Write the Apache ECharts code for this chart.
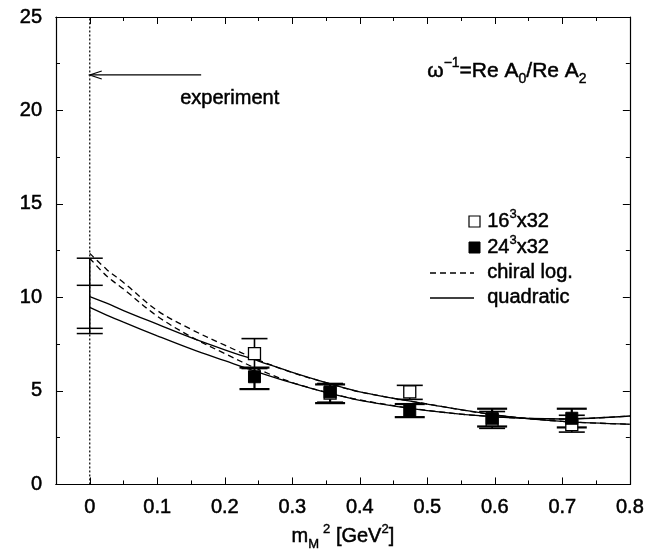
<!DOCTYPE html>
<html>
<head>
<meta charset="utf-8">
<script src="https://cdn.jsdelivr.net/npm/echarts@6/dist/echarts.min.js"></script>
<style>
html,body{margin:0;padding:0;background:#fff;}
#c{width:647px;height:556px;}
</style>
</head>
<body>
<div id="c"></div>
<script>
// ---------- data ----------
const xTicks = [0, 0.1, 0.2, 0.3, 0.4, 0.5, 0.6, 0.7, 0.8];
const xMinorTicks = [0.05, 0.15, 0.25, 0.35, 0.45, 0.55, 0.65, 0.75];
const yTicks = [0, 5, 10, 15, 20, 25];

const massX = [0.244, 0.356, 0.474, 0.596, 0.714];
const open16 = [7.0, 4.88, 4.95, 3.45, 3.2];
const open16Lo = [6.2, 4.4, 4.55, 3.0, 2.8];
const open16Hi = [7.8, 5.4, 5.3, 3.9, 3.7];
const filled24 = [5.76, 4.95, 3.96, 3.54, 3.54];
const filled24Lo = [5.1, 4.35, 3.6, 3.1, 3.05];
const filled24Hi = [6.25, 5.35, 4.3, 4.05, 4.05];

const xCurve = [0, 0.025, 0.05, 0.1, 0.15, 0.2, 0.25, 0.3, 0.35, 0.4, 0.5, 0.6, 0.7, 0.8];
const chiral16 = [12.36, 11.5, 10.8, 9.3, 8.3, 7.45, 6.65, 5.98, 5.44, 4.95, 4.3, 3.72, 3.37, 3.22];
const chiral24 = [12.1, 11.15, 10.45, 9.0, 7.9, 7.0, 6.15, 5.45, 4.94, 4.52, 3.96, 3.62, 3.5, 3.66];
const quad16 = [10.05, 9.7, 9.3, 8.57, 7.85, 7.2, 6.6, 6.0, 5.45, 4.95, 4.3, 3.72, 3.37, 3.22];
const quad24 = [9.47, 9.06, 8.68, 7.95, 7.25, 6.62, 6.0, 5.43, 4.92, 4.5, 3.95, 3.62, 3.5, 3.66];

const interceptX = 0;
const interceptTicks = [12.1, 10.65, 8.35, 8.07];

const arrowX = [0.165, 0];
const arrowY = 21.9;

// ---------- chart ----------
const FONT = '"Liberation Sans", Arial, Helvetica, sans-serif';
const chart = echarts.init(document.getElementById('c'), null, {renderer: 'canvas'});

const pairs = (xs, ys) => xs.map((x, i) => [x, ys[i]]);
const errData = (xs, lo, hi) => xs.map((x, i) => [x, lo[i], hi[i]]);

function errRender(halfW, lw) {
  return function (params, api) {
    const x = api.value(0), lo = api.value(1), hi = api.value(2);
    const a = api.coord([x, lo]), b = api.coord([x, hi]);
    const st = {stroke: '#000', lineWidth: lw};
    return {type: 'group', children: [
      {type: 'line', shape: {x1: a[0], y1: a[1], x2: b[0], y2: b[1]}, style: st},
      {type: 'line', shape: {x1: a[0] - halfW, y1: a[1], x2: a[0] + halfW, y2: a[1]}, style: st},
      {type: 'line', shape: {x1: b[0] - halfW, y1: b[1], x2: b[0] + halfW, y2: b[1]}, style: st}
    ]};
  };
}

function curve(name, ys, dashed) {
  return {
    type: 'line', name: name, data: pairs(xCurve, ys), smooth: 0.35,
    showSymbol: false, symbol: 'none', silent: true, z: 3,
    lineStyle: {color: '#000', width: 1.3, type: dashed ? [6, 4] : 'solid'}
  };
}

const TB = {textBorderColor: '#000', textBorderWidth: 0.5};

const baseX = {
  type: 'value', min: -0.05, max: 0.8,
  axisLine: {show: true, onZero: false, lineStyle: {color: '#000', width: 1.2}},
  splitLine: {show: false}
};
const baseY = {
  type: 'value', min: 0, max: 25, interval: 5,
  axisLine: {show: true, onZero: false, lineStyle: {color: '#000', width: 1.2}},
  splitLine: {show: false},
  axisTick: {show: true, inside: true, length: 7, lineStyle: {color: '#000'}},
  minorTick: {show: true, splitNumber: 2, length: 4, lineStyle: {color: '#000'}}
};

const richBase = {fontSize: 20, fontFamily: FONT, color: '#000', verticalAlign: 'middle', lineHeight: 28, textBorderColor: '#000', textBorderWidth: 0.5};
const richSup = {fontSize: 13, fontFamily: FONT, color: '#000', verticalAlign: 'top', lineHeight: 28, textBorderColor: '#000', textBorderWidth: 0.4};
const richSub = {fontSize: 13, fontFamily: FONT, color: '#000', verticalAlign: 'bottom', lineHeight: 28, textBorderColor: '#000', textBorderWidth: 0.4};

const option = {
  backgroundColor: '#fff',
  animation: false,
  grid: {left: 56, right: 15, top: 17, bottom: 49, containLabel: false},
  xAxis: [
    Object.assign({}, baseX, {
      position: 'bottom',
      axisTick: {show: true, inside: true, length: 7, customValues: xTicks, lineStyle: {color: '#000'}},
      axisLabel: Object.assign({show: true, customValues: xTicks, margin: 13, color: '#000', fontSize: 20, fontFamily: FONT,
        formatter: v => String(Math.round(v * 10) / 10)}, TB),
      name: '{b|m}{sub|M}{sup|2}{b| [GeV}{sup|2}{b|]}',
      nameLocation: 'middle', nameGap: 36,
      nameTextStyle: {color: '#000', fontFamily: FONT,
        rich: {
          b: richBase,
          sub: Object.assign({}, richSub, {padding: [0, 4, 0, 0]}),
          sup: richSup
        }}
    }),
    Object.assign({}, baseX, {
      position: 'top',
      axisTick: {show: true, inside: true, length: 7, customValues: xTicks, lineStyle: {color: '#000'}},
      axisLabel: {show: false}
    }),
    Object.assign({}, baseX, {
      position: 'bottom',
      axisTick: {show: true, inside: true, length: 4, customValues: xMinorTicks, lineStyle: {color: '#000'}},
      axisLabel: {show: false}
    }),
    Object.assign({}, baseX, {
      position: 'top',
      axisTick: {show: true, inside: true, length: 4, customValues: xMinorTicks, lineStyle: {color: '#000'}},
      axisLabel: {show: false}
    })
  ],
  yAxis: [
    Object.assign({}, baseY, {
      position: 'left',
      axisLabel: Object.assign({show: true, margin: 14, color: '#000', fontSize: 20, fontFamily: FONT}, TB)
    }),
    Object.assign({}, baseY, {position: 'right', axisLabel: {show: false}})
  ],
  series: [
    // dotted vertical line at m^2 = 0
    {type: 'line', data: [[0, 0], [0, 25]], symbol: 'none', silent: true, z: 1,
      lineStyle: {color: '#000', width: 1.2, type: [2, 2]}},
    // experiment arrow
    {type: 'custom', silent: true, z: 4,
      data: [[arrowX[0], arrowY, arrowX[1]]],
      encode: {x: [0, 2], y: 1},
      renderItem: function (params, api) {
        const a = api.coord([api.value(0), api.value(1)]);
        const b = api.coord([api.value(2), api.value(1)]);
        const st = {stroke: '#000', lineWidth: 1.2, fill: null};
        return {type: 'group', children: [
          {type: 'line', shape: {x1: a[0], y1: a[1], x2: b[0], y2: b[1]}, style: st},
          {type: 'polyline', shape: {points: [[b[0] + 12, b[1] - 4], [b[0], b[1]], [b[0] + 12, b[1] + 4]]}, style: st}
        ]};
      }},
    curve('chiral16', chiral16, true),
    curve('chiral24', chiral24, true),
    curve('quad16', quad16, false),
    curve('quad24', quad24, false),
    // intercept error bars at m^2 = 0
    {type: 'custom', silent: true, z: 4,
      data: [[interceptX, Math.min.apply(null, interceptTicks), Math.max.apply(null, interceptTicks)]],
      encode: {x: 0, y: [1, 2]},
      renderItem: function (params, api) {
        const x = api.value(0);
        const a = api.coord([x, api.value(1)]), b = api.coord([x, api.value(2)]);
        const st = {stroke: '#000', lineWidth: 1.5};
        const kids = [{type: 'line', shape: {x1: a[0], y1: a[1], x2: b[0], y2: b[1]}, style: st}];
        interceptTicks.forEach(v => {
          const p = api.coord([x, v]);
          kids.push({type: 'line', shape: {x1: p[0] - 13, y1: p[1], x2: p[0] + 13, y2: p[1]}, style: st});
        });
        return {type: 'group', children: kids};
      }},
    // error bars
    {type: 'custom', silent: true, z: 5, data: errData(massX, open16Lo, open16Hi),
      encode: {x: 0, y: [1, 2]}, renderItem: errRender(13, 1.6)},
    {type: 'custom', silent: true, z: 5, data: errData(massX, filled24Lo, filled24Hi),
      encode: {x: 0, y: [1, 2]}, renderItem: errRender(15, 2.2)},
    // points
    {type: 'scatter', name: '16^3x32', data: pairs(massX, open16), symbol: 'rect', symbolSize: 12, z: 6,
      itemStyle: {color: '#fff', borderColor: '#000', borderWidth: 1.3, opacity: 1}},
    {type: 'scatter', name: '24^3x32', data: pairs(massX, filled24), symbol: 'rect', symbolSize: 12, z: 7,
      itemStyle: {color: '#000', borderColor: '#000', borderWidth: 1, opacity: 1}}
  ],
  graphic: [
    {type: 'text', left: 180, top: 88, z: 10,
      style: {text: 'experiment', fontSize: 20, fontFamily: FONT, fill: '#000', stroke: '#000', lineWidth: 0.5}},
    {type: 'text', left: 427, top: 56, z: 10,
      style: {text: '{b|ω}{sup|−1}{b|=Re A}{sub|0}{b|/Re A}{sub|2}',
        rich: {
          b: {fontSize: 21, fontFamily: FONT, fill: '#000', stroke: '#000', lineWidth: 0.5, verticalAlign: 'middle', lineHeight: 30},
          sup: {fontSize: 14, fontFamily: FONT, fill: '#000', stroke: '#000', lineWidth: 0.4, verticalAlign: 'top', lineHeight: 30},
          sub: {fontSize: 14, fontFamily: FONT, fill: '#000', stroke: '#000', lineWidth: 0.4, verticalAlign: 'bottom', lineHeight: 30}
        }}},
    // legend
    {type: 'rect', shape: {x: 469, y: 216, width: 11, height: 11}, style: {fill: '#fff', stroke: '#000', lineWidth: 1.2}, z: 10},
    {type: 'text', left: 487, top: 208, z: 10,
      style: {text: '{b|16}{sup|3}{b|x32}', rich: {
        b: {fontSize: 20, fontFamily: FONT, fill: '#000', stroke: '#000', lineWidth: 0.5, verticalAlign: 'middle', lineHeight: 26},
        sup: {fontSize: 13, fontFamily: FONT, fill: '#000', stroke: '#000', lineWidth: 0.4, verticalAlign: 'top', lineHeight: 26}}}},
    {type: 'rect', shape: {x: 469, y: 242, width: 11, height: 11}, style: {fill: '#000', stroke: '#000', lineWidth: 1}, z: 10},
    {type: 'text', left: 487, top: 234, z: 10,
      style: {text: '{b|24}{sup|3}{b|x32}', rich: {
        b: {fontSize: 20, fontFamily: FONT, fill: '#000', stroke: '#000', lineWidth: 0.5, verticalAlign: 'middle', lineHeight: 26},
        sup: {fontSize: 13, fontFamily: FONT, fill: '#000', stroke: '#000', lineWidth: 0.4, verticalAlign: 'top', lineHeight: 26}}}},
    {type: 'line', shape: {x1: 430, y1: 273, x2: 474, y2: 273}, style: {stroke: '#000', lineWidth: 1.3, lineDash: [6, 4]}, z: 10},
    {type: 'text', left: 487, top: 262, z: 10,
      style: {text: 'chiral log.', fontSize: 20, fontFamily: FONT, fill: '#000', stroke: '#000', lineWidth: 0.5}},
    {type: 'line', shape: {x1: 430, y1: 298, x2: 474, y2: 298}, style: {stroke: '#000', lineWidth: 1.3}, z: 10},
    {type: 'text', left: 487, top: 287, z: 10,
      style: {text: 'quadratic', fontSize: 20, fontFamily: FONT, fill: '#000', stroke: '#000', lineWidth: 0.5}}
  ]
};
chart.setOption(option);
</script>
</body>
</html>
